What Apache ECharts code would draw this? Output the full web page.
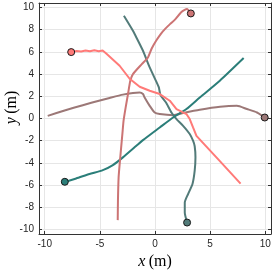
<!DOCTYPE html>
<html>
<head>
<meta charset="utf-8">
<script src="https://cdn.jsdelivr.net/npm/echarts@6/dist/echarts.min.js"></script>
<style>html,body{margin:0;padding:0;background:#fff}#c{width:274px;height:271px}</style>
</head>
<body>
<div id="c"></div>
<script>
// ---- data ----
const xTicks = [-10, -5, 0, 5, 10];
const yTicks = [-10, -8, -6, -4, -2, 0, 2, 4, 6, 8, 10];

const brownX = [9.95, 9.25, 8.34, 7.43, 5.9, 4.06, 2.55, 1.65, 0.43, -0.03, -0.48, -0.94, -1.09, -1.39, -2.0, -2.91, -4.12, -5.0, -6.55, -8.2, -9.73];
const brownY = [0.09, 0.54, 0.85, 1.14, 1.05, 0.78, 0.49, 0.3, 0.4, 0.54, 1.14, 1.89, 2.2, 2.34, 2.3, 2.15, 1.85, 1.62, 1.2, 0.72, 0.24];

const slateX = [2.91, 2.7, 2.7, 3.0, 3.4, 3.6, 3.67, 3.6, 3.45, 3.15, 2.55, 1.95, 1.49, 1.0, 0.5, 0.35, 0.13, -0.48, -1.09, -1.69, -2.0, -2.82];
const slateY = [-9.37, -8.47, -7.57, -6.8, -5.9, -4.7, -3.5, -2.5, -2.0, -1.4, -0.66, -0.05, 0.54, 1.44, 2.1, 2.8, 3.3, 4.6, 6.1, 7.3, 7.9, 9.25];

const tealX = [-8.18, -7.15, -5.94, -4.73, -3.82, -2.91, -1.69, -1.09, 0.43, 1.64, 2.85, 4.06, 5.88, 8.04];
const tealY = [-5.7, -5.4, -5.0, -4.65, -4.2, -3.5, -2.46, -1.95, -0.81, 0.09, 0.85, 1.89, 3.4, 5.44];

const roseX = [3.25, 2.9, 2.4, 1.85, 1.36, 0.9, 0.55, 0.1, -0.3, -0.64, -1.2, -2.0, -2.24, -2.45, -2.66, -2.85, -2.95, -3.15, -3.3, -3.36, -3.38];
const roseY = [9.46, 9.85, 9.6, 8.95, 8.5, 8.05, 7.65, 7.0, 6.3, 5.5, 4.9, 4.0, 3.4, 2.2, 1.0, -0.2, -1.3, -3.5, -5.3, -7.4, -9.15];

const salmonX = [-7.6, -7.1, -6.7, -6.3, -5.9, -5.5, -5.1, -4.75, -4.45, -3.21, -2.3, -1.39, -0.48, 0.43, 1.34, 1.95, 2.85, 3.15, 3.45, 3.76, 5.8, 7.76];
const salmonY = [5.98, 6.08, 6.04, 6.12, 6.05, 6.14, 6.06, 6.12, 5.88, 4.75, 3.58, 2.86, 2.5, 2.2, 1.6, 0.85, 0.4, -0.05, -0.8, -1.56, -3.75, -5.86];

const paths = [
  {name: 'brown',  xs: brownX,  ys: brownY,  color: '#9C7877', smooth: 0.2},
  {name: 'slate',  xs: slateX,  ys: slateY,  color: '#527B79', smooth: 0.2},
  {name: 'teal',   xs: tealX,   ys: tealY,   color: '#2B7E79', smooth: 0.2},
  {name: 'rose',   xs: roseX,   ys: roseY,   color: '#CC7474', smooth: 0.2},
  {name: 'salmon', xs: salmonX, ys: salmonY, color: '#FF7A78', smooth: false}
];

const zip = (a, b) => a.map((v, i) => [v, b[i]]);

const axisCol = '#333333';
const labelStyle = {color: '#262626', fontSize: 10, fontFamily: 'Liberation Sans, Arial, sans-serif'};

const series = [];
paths.forEach(p => {
  series.push({
    type: 'line', name: p.name, data: zip(p.xs, p.ys), showSymbol: false, symbol: 'none',
    smooth: p.smooth, lineStyle: {color: p.color, width: 2}, z: 2, clip: true
  });
});
paths.forEach(p => {
  series.push({
    type: 'scatter', data: [[p.xs[0], p.ys[0]]], symbol: 'circle', symbolSize: 7,
    itemStyle: {color: p.color, borderColor: '#1a1a1a', borderWidth: 1, opacity: 1}, z: 5
  });
});

const chart = echarts.init(document.getElementById('c'), null, {renderer: 'canvas'});
chart.setOption({
  animation: false,
  backgroundColor: '#ffffff',
  grid: {left: 39, right: 3, top: 3, bottom: 37, containLabel: false, outerBoundsMode: 'none'},
  xAxis: [{
    type: 'value', min: -10.52, max: 10.52, position: 'bottom',
    axisLine: {show: true, onZero: false, lineStyle: {color: axisCol, width: 1}},
    axisTick: {show: true, inside: true, length: 3, customValues: xTicks, lineStyle: {color: axisCol}},
    axisLabel: {show: true, customValues: xTicks, margin: 5, ...labelStyle},
    splitLine: {show: true, lineStyle: {color: '#e6e6e6', width: 1}},
    name: '{i|x} {r|(m)}', nameLocation: 'middle', nameGap: 19,
    nameTextStyle: {rich: {
      i: {fontFamily: 'Liberation Serif, serif', fontStyle: 'italic', fontSize: 16, color: '#000'},
      r: {fontFamily: 'Liberation Serif, serif', fontSize: 16, color: '#000'}
    }}
  }, {
    type: 'value', min: -10.52, max: 10.52, position: 'top',
    axisLine: {show: true, onZero: false, lineStyle: {color: axisCol, width: 1}},
    axisTick: {show: true, inside: true, length: 3, customValues: xTicks, lineStyle: {color: axisCol}},
    axisLabel: {show: false}, splitLine: {show: false}
  }],
  yAxis: [{
    type: 'value', min: -10.4, max: 10.4, position: 'left',
    axisLine: {show: true, onZero: false, lineStyle: {color: axisCol, width: 1}},
    axisTick: {show: true, inside: true, length: 3, customValues: yTicks, lineStyle: {color: axisCol}},
    axisLabel: {show: true, customValues: yTicks, margin: 5, ...labelStyle},
    splitLine: {show: true, lineStyle: {color: '#e6e6e6', width: 1}},
    name: '{s|}{i|y} {r|(m)}', nameLocation: 'middle', nameGap: 19, nameRotate: 90, nameMoveOverlap: false,
    nameTextStyle: {rich: {
      s: {width: 22, fontSize: 16},
      i: {fontFamily: 'Liberation Serif, serif', fontStyle: 'italic', fontSize: 16, color: '#000'},
      r: {fontFamily: 'Liberation Serif, serif', fontSize: 16, color: '#000'}
    }}
  }, {
    type: 'value', min: -10.4, max: 10.4, position: 'right',
    axisLine: {show: true, onZero: false, lineStyle: {color: axisCol, width: 1}},
    axisTick: {show: true, inside: true, length: 3, customValues: yTicks, lineStyle: {color: axisCol}},
    axisLabel: {show: false}, splitLine: {show: false}
  }],
  series: series
});
</script>
</body>
</html>
